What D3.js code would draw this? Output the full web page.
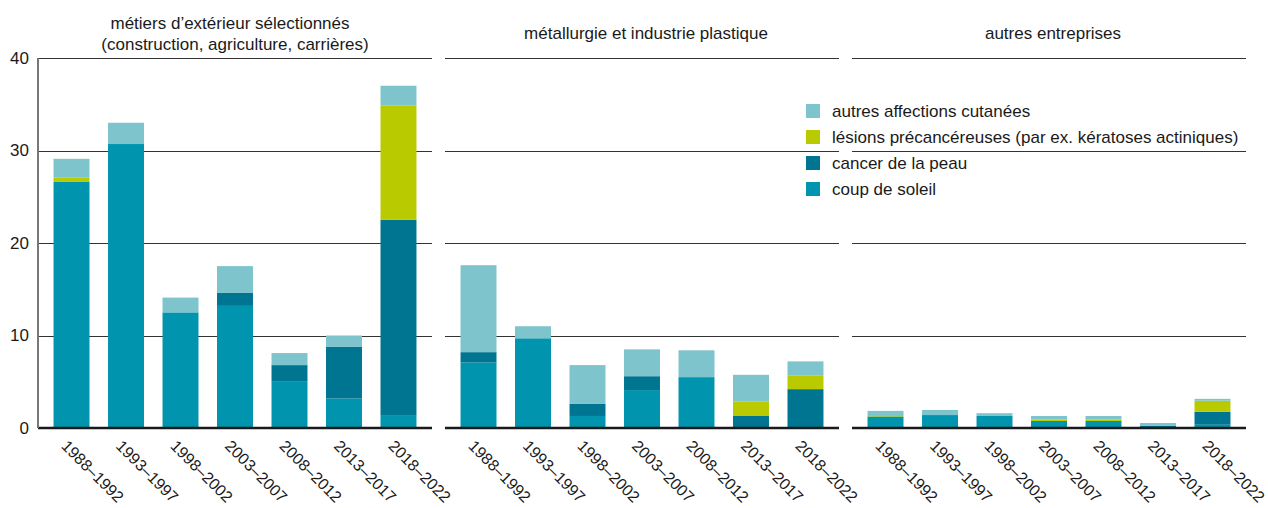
<!DOCTYPE html>
<html>
<head>
<meta charset="utf-8">
<script src="https://cdn.jsdelivr.net/npm/d3@7"></script>
<style>
  html, body { margin: 0; padding: 0; background: #fff; }
  svg { display: block; font-family: "Liberation Sans", Arial, sans-serif; }
</style>
</head>
<body>
<svg id="chart" width="1268" height="508"></svg>
<script>
// ---- DATA ----
const periods = ["1988–1992", "1993–1997", "1998–2002", "2003–2007", "2008–2012", "2013–2017", "2018–2022"];
const panelTitles = [
  ["métiers d’extérieur sélectionnés", "(construction, agriculture, carrières)"],
  ["métallurgie et industrie plastique"],
  ["autres entreprises"]
];
const seriesKeys = ["coup", "cancer", "lesions", "autres"];
const seriesLabels = ["coup de soleil", "cancer de la peau", "lésions précancéreuses (par ex. kératoses actiniques)", "autres affections cutanées"];
const yTicks = [0, 10, 20, 30, 40];

// panel 1: métiers d'extérieur
const coupP1    = [26.6, 30.7, 12.5, 13.2, 5.0, 3.2, 1.4];
const cancerP1  = [0.0, 0.0, 0.0, 1.4, 1.8, 5.6, 21.1];
const lesionsP1 = [0.5, 0.0, 0.0, 0.0, 0.0, 0.0, 12.35];
const autresP1  = [2.0, 2.3, 1.6, 2.9, 1.3, 1.2, 2.15];
// panel 2: métallurgie
const coupP2    = [7.1, 9.7, 1.3, 4.1, 5.5, 0.0, 0.0];
const cancerP2  = [1.1, 0.0, 1.3, 1.5, 0.0, 1.3, 4.2];
const lesionsP2 = [0.0, 0.0, 0.0, 0.0, 0.0, 1.55, 1.5];
const autresP2  = [9.4, 1.3, 4.2, 2.9, 2.9, 2.9, 1.5];
// panel 3: autres entreprises
const coupP3    = [1.25, 1.4, 1.3, 0.76, 0.76, 0.0, 0.35];
const cancerP3  = [0.0, 0.0, 0.0, 0.0, 0.0, 0.22, 1.4];
const lesionsP3 = [0.15, 0.0, 0.0, 0.14, 0.14, 0.1, 1.2];
const autresP3  = [0.45, 0.55, 0.3, 0.4, 0.4, 0.22, 0.2];

const colors = { coup: "#0094ae", cancer: "#007592", lesions: "#b9ca00", autres: "#7dc4cc" };

// ---- BUILD ----
const panelsData = [
  [coupP1, cancerP1, lesionsP1, autresP1],
  [coupP2, cancerP2, lesionsP2, autresP2],
  [coupP3, cancerP3, lesionsP3, autresP3]
].map(arrs => periods.map((p, i) => {
  const row = { period: p };
  seriesKeys.forEach((k, j) => row[k] = arrs[j][i]);
  return row;
}));

const svg = d3.select("#chart");
const plotTop = 58, plotBottom = 428;
const panelX = [38, 445, 852];
const panelW = 394;
const fs = 17;

const y = d3.scaleLinear().domain([0, 40]).range([plotBottom, plotTop]);
const stack = d3.stack().keys(seriesKeys);

// y tick labels (panel 1 only)
svg.append("g").selectAll("text").data(yTicks).join("text")
  .attr("x", 29).attr("y", d => y(d)).attr("dy", "0.35em")
  .attr("text-anchor", "end").attr("font-size", fs).attr("fill", "#1a1a1a")
  .text(d => d);

panelsData.forEach((data, pi) => {
  const x0 = panelX[pi];
  const x = d3.scaleBand().domain(periods).range([x0, x0 + panelW])
    .paddingInner(0.34).paddingOuter(0.285);
  const g = svg.append("g");

  // gridlines
  g.selectAll("line.grid").data(yTicks.filter(t => t > 0)).join("line")
    .attr("x1", x0).attr("x2", x0 + panelW)
    .attr("y1", d => Math.round(y(d)) + 0.5).attr("y2", d => Math.round(y(d)) + 0.5)
    .attr("stroke", "#333").attr("stroke-width", 1);

  // bars
  const stacked = stack(data);
  g.selectAll("g.layer").data(stacked).join("g")
    .attr("fill", d => colors[d.key])
    .selectAll("rect").data(d => d).join("rect")
    .attr("x", d => x(d.data.period))
    .attr("width", x.bandwidth())
    .attr("y", d => y(d[1]))
    .attr("height", d => Math.max(0, y(d[0]) - y(d[1])));

  // baseline
  g.append("line")
    .attr("x1", x0).attr("x2", x0 + panelW)
    .attr("y1", plotBottom).attr("y2", plotBottom)
    .attr("stroke", "#1a1a1a").attr("stroke-width", 2.5);

  // x labels
  g.selectAll("text.xl").data(periods).join("text")
    .attr("font-size", 16).attr("fill", "#1a1a1a")
    .attr("text-anchor", "start")
    .attr("transform", d => `translate(${x(d) + x.bandwidth() / 2 - 11},${plotBottom + 19}) rotate(45)`)
    .text(d => d);

  // title
  const lines = panelTitles[pi];
  const cx = x0 + panelW / 2 + (pi === 0 ? -1 : 4);
  g.selectAll("text.title").data(lines).join("text")
    .attr("x", (d, i) => cx + (lines.length > 1 ? (i === 0 ? -4 : 1) : 0))
    .attr("y", (d, i) => lines.length > 1 ? 29 + i * 21 : 39)
    .attr("text-anchor", "middle").attr("font-size", fs).attr("fill", "#1a1a1a")
    .text(d => d);
});

// y axis line
svg.append("line")
  .attr("x1", 38).attr("x2", 38).attr("y1", plotTop).attr("y2", plotBottom)
  .attr("stroke", "#777").attr("stroke-width", 2);

// legend
const legendOrder = [3, 2, 1, 0];
const lg = svg.append("g").attr("transform", "translate(806,111)");
const items = lg.selectAll("g").data(legendOrder).join("g")
  .attr("transform", (d, i) => `translate(0,${i * 26})`);
items.append("rect").attr("x", 0).attr("y", -7).attr("width", 14).attr("height", 14)
  .attr("fill", d => colors[seriesKeys[d]]);
items.append("text").attr("x", 26).attr("y", 0).attr("dy", "0.35em")
  .attr("font-size", fs).attr("fill", "#1a1a1a")
  .text(d => seriesLabels[d]);
</script>
</body>
</html>
